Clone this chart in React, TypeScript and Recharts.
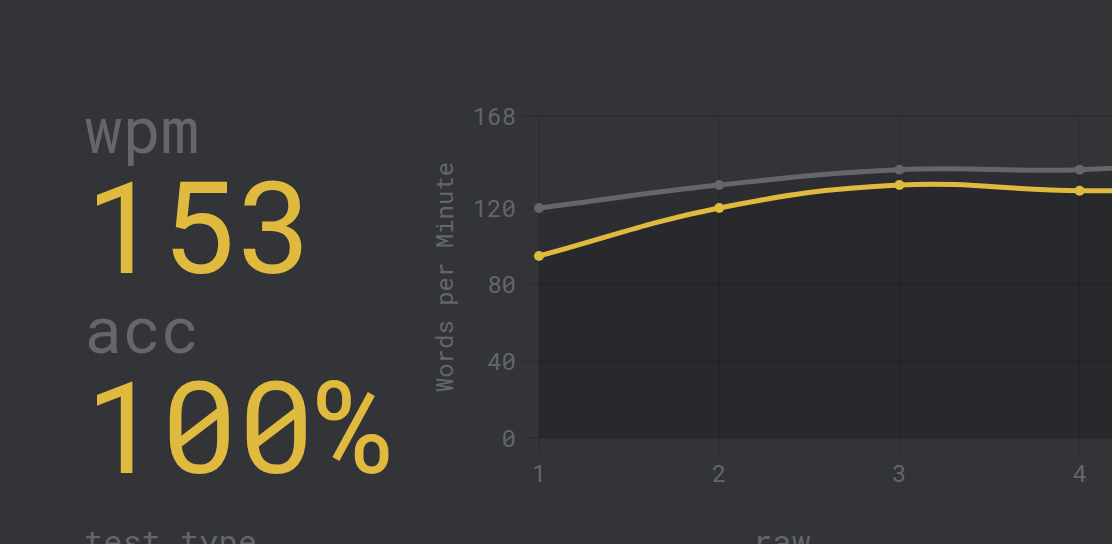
import React from 'react';
import { ComposedChart, Area, Line, XAxis, YAxis, CartesianGrid } from 'recharts';

// per-row speed (rows 5-6 sit past the right edge)
const rows = [1, 2, 3, 4, 5, 6];
const wpmValues = [95, 120, 132, 129, 131, 138];
const rawValues = [120, 132, 140, 140, 146, 152];
const yTicks = [0, 40, 80, 120, 168];

const BG = '#323437';
const MAIN = '#e0ba3e';
const SUB = '#646669';
const GRID = 'rgba(0,0,0,0.09)';
const MONO = "'Roboto Mono', 'DejaVu Sans Mono', monospace";

const data = rows.map((row, i) => ({ row, wpm: wpmValues[i], raw: rawValues[i] }));

// chart.js style spline (tension 0.4) as a d3 curve factory
const TENSION = 0.4;
function splineCurve(context: any) {
  let pts: number[][] = [];
  let line: any;
  const cps = (p: number[], c: number[], n: number[]) => {
    const d01 = Math.hypot(c[0] - p[0], c[1] - p[1]);
    const d12 = Math.hypot(n[0] - c[0], n[1] - c[1]);
    let s01 = d01 / (d01 + d12);
    let s12 = d12 / (d01 + d12);
    if (isNaN(s01)) s01 = 0;
    if (isNaN(s12)) s12 = 0;
    const fa = TENSION * s01;
    const fb = TENSION * s12;
    return {
      prev: [c[0] - fa * (n[0] - p[0]), c[1] - fa * (n[1] - p[1])],
      next: [c[0] + fb * (n[0] - p[0]), c[1] + fb * (n[1] - p[1])],
    };
  };
  return {
    areaStart() { line = 0; },
    areaEnd() { line = NaN; },
    lineStart() { pts = []; },
    point(x: number, y: number) { pts.push([+x, +y]); },
    lineEnd() {
      const n = pts.length;
      if (n) {
        if (line) context.lineTo(pts[0][0], pts[0][1]);
        else context.moveTo(pts[0][0], pts[0][1]);
        const ctrl = pts.map((c, i) => cps(pts[i - 1] || c, c, pts[i + 1] || c));
        for (let i = 1; i < n; i++) {
          const a = ctrl[i - 1].next;
          const b = ctrl[i].prev;
          context.bezierCurveTo(a[0], a[1], b[0], b[1], pts[i][0], pts[i][1]);
        }
      }
      if (line || (line !== 0 && n === 1)) context.closePath();
      line = 1 - line;
    },
  };
}

const YTitle = ({ viewBox }: any) => {
  const x = viewBox.x + 19;
  const y = viewBox.y + viewBox.height / 2;
  return (
    <text x={x} y={y} transform={`rotate(-90 ${x} ${y})`} textAnchor="middle" dominantBaseline="central"
      fill={SUB} fontSize={24} fontFamily={MONO}>
      Words per Minute
    </text>
  );
};

export default function App() {
  const tick = { fill: SUB, fontSize: 24, fontFamily: MONO };
  return (
    <div style={{ position: 'fixed', left: 0, top: 0, width: 1112, height: 544, overflow: 'hidden', background: BG }}>
      <svg width={420} height={544} style={{ position: 'absolute', left: 0, top: 0 }} fontFamily={MONO}>
        <text x={84} y={153} fontSize={64} fill={SUB}>wpm</text>
        <text x={84} y={273} fontSize={128} fill={MAIN}>153</text>
        <text x={84} y={353} fontSize={64} fill={SUB}>acc</text>
        <text x={84} y={473} fontSize={128} fill={MAIN}>100%</text>
        <text x={84} y={553} fontSize={32} fill={SUB}>test type</text>
      </svg>
      <svg width={200} height={544} style={{ position: 'absolute', left: 700, top: 0 }} fontFamily={MONO}>
        <text x={53} y={553} fontSize={32} fill={SUB}>raw</text>
      </svg>
      <div style={{ position: 'absolute', left: 0, top: 0 }}>
        <ComposedChart width={1460} height={544} data={data} margin={{ top: 116, right: 20, bottom: 46, left: 425 }}>
          <CartesianGrid stroke={GRID} strokeWidth={2} />
          <XAxis dataKey="row" interval={0} height={60} tickSize={16} tickMargin={11} axisLine={false}
            tickLine={{ stroke: GRID, strokeWidth: 2 }} tick={tick} />
          <YAxis domain={[0, 168]} ticks={yTicks} interval={0} width={114} tickSize={16} tickMargin={7}
            axisLine={false} tickLine={{ stroke: GRID, strokeWidth: 2 }} tick={tick}
            label={{ content: <YTitle /> }} />
          <Area type={splineCurve as any} dataKey="raw" stroke="none" fill="#000" fillOpacity={0.1}
            activeDot={false} isAnimationActive={false} />
          <Area type={splineCurve as any} dataKey="wpm" stroke="none" fill="#000" fillOpacity={0.1}
            activeDot={false} isAnimationActive={false} />
          <Line type={splineCurve as any} dataKey="raw" stroke={SUB} strokeWidth={5}
            dot={{ r: 5, fill: SUB, stroke: SUB, strokeWidth: 0 }} activeDot={false} isAnimationActive={false} />
          <Line type={splineCurve as any} dataKey="wpm" stroke={MAIN} strokeWidth={5}
            dot={{ r: 5, fill: MAIN, stroke: MAIN, strokeWidth: 0 }} activeDot={false} isAnimationActive={false} />
        </ComposedChart>
      </div>
    </div>
  );
}
